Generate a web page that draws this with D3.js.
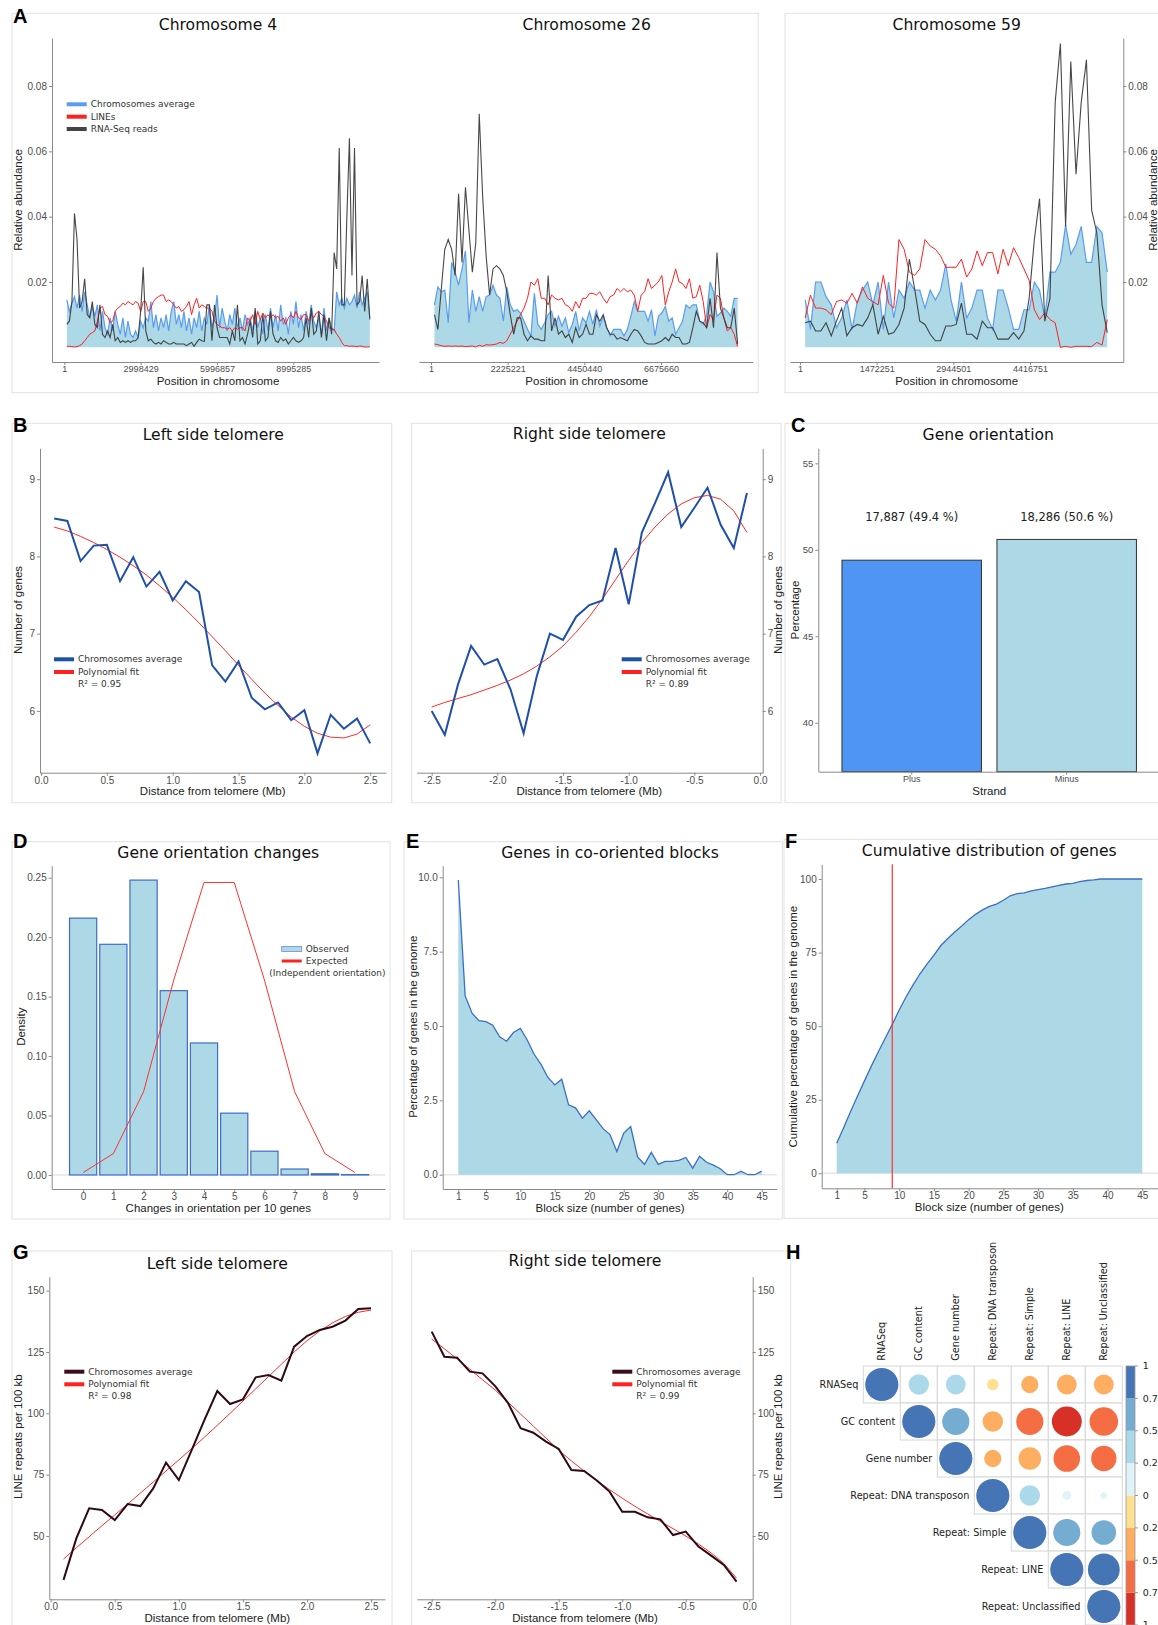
<!DOCTYPE html>
<html>
<head>
<meta charset="utf-8">
<script src="https://cdn.jsdelivr.net/npm/d3@7"></script>
<style>
body { margin: 0; background: #fff; }
svg { display: block; }
svg text { font-family: "Liberation Sans", Arial, sans-serif; }
.title, .leg, .barlab, .corr { font-family: "DejaVu Sans", Verdana, sans-serif; }
</style>
</head>
<body>
<svg id="fig" width="1158" height="1625"></svg>
<script>
// ---- data ----
// panel A: relative abundance per 100 kb window (values x 0.001)
var WINDOW = 100000;
var chr4Ticks = [1, 2998429, 5996857, 8995285];
var chr4Avg = [14.5, 11, 13.5, 15.5, 12, 16, 11, 17, 13, 9,
  12.5, 9.5, 13, 5, 11, 6, 4, 9, 5, 11,
  7, 4, 9, 3, 8, 4, 3, 5, 3, 8,
  6, 9, 8, 14, 6, 10, 5, 9, 6, 10,
  5, 11, 14, 7, 10, 6, 11, 5, 9, 4,
  9, 6, 11, 5, 9, 7, 13, 6, 9, 16,
  6, 12, 8, 5, 10, 7, 12, 6, 9, 5,
  10, 7, 9, 5, 11, 6, 9, 4, 10, 5,
  12, 6, 10, 5, 13, 7, 9, 4, 11, 7,
  14, 6, 10, 5, 11, 7, 13, 8, 6, 9,
  4, 12, 5, 9, 6, 5, 17, 13, 15, 12,
  15, 13, 14, 16, 12, 17, 13, 15, 17, 9];
var chr4Lines = [0.3, 0.3, 0.2, 0.1, 0.2, 0.5, 1, 2, 3, 4,
  4.5, 5, 8, 12, 12.5, 10, 9.5, 7.5, 8, 11,
  12, 12.5, 13.5, 13, 14, 13.5, 13, 14, 13.5, 11,
  14, 14, 11, 12, 14, 15, 15.5, 16, 16, 14,
  14.5, 14, 13, 12, 12.5, 11, 11.5, 12.5, 14, 10,
  13, 15, 12, 13, 12.5, 12, 12, 11, 8, 7,
  6.5, 6, 6, 5.5, 6, 5, 6, 5.5, 6, 6,
  5, 9, 8, 10, 7, 11, 8.5, 10.5, 9, 10,
  9, 10, 9, 9.5, 8, 9, 7, 9, 10, 9,
  11, 9, 8.5, 10, 10, 8, 10, 9, 10.5, 11,
  10, 9.5, 8, 6, 5.5, 5.5, 4, 3, 1.5, 0.5,
  0.5, 0.3, 0.4, 0.3, 0.2, 0.4, 0.3, 0.1, 0.1, 0.2];
var chr4Rna = [7, 8, 14, 41, 33, 12, 14, 21, 10, 9,
  14, 7, 6, 13, 4, 3, 5, 3, 7, 2,
  3, 1.5, 2, 1.5, 2, 1.5, 2, 2, 3, 11,
  24.5, 5, 2, 2.5, 1.5, 1, 1.5, 1, 2, 1.5,
  1, 1, 1.5, 1, 1, 1, 1, 0.5, 1, 1.5,
  0.3, 1.5, 2.5, 2, 1.8, 13, 13, 2, 13, 6,
  3, 3, 3, 3, 1, 5, 2, 13, 2, 3,
  1, 4, 8, 3, 12, 1, 2, 10, 2, 3,
  11, 4, 2, 1.5, 3, 2, 2.5, 1, 2, 3,
  2, 1.5, 2, 3, 9, 3, 12, 4, 5, 11,
  3, 10, 2, 9, 4, 29, 24, 61, 13, 13,
  40, 64, 22, 61, 13, 14, 22, 11, 21, 8.5];

var chr26Ticks = [1, 2225221, 4450440, 6675660];
var chr26Avg = [13, 18.5, 17, 17.5, 7.5, 26, 23, 19, 24, 29.5,
  7.5, 17.5, 11, 15.5, 11, 15.5, 16, 19, 16, 15,
  8, 18.5, 13, 11, 11.5, 10.5, 8, 5.5, 3.5, 16.5,
  7, 5.5, 7.5, 10, 11, 6.5, 9.5, 6.5, 9, 4.5,
  7, 11, 5, 9, 7.5, 11, 7, 11.5, 6.5, 9.5,
  6, 3.5, 5.5, 5.5, 5.5, 3.5, 5.5, 9.5, 14, 11,
  11, 11, 8, 11.5, 3.5, 9.5, 10.5, 12.5, 8, 9,
  4, 6, 8, 13, 12, 13, 13, 8, 7, 10,
  20, 17, 9.5, 10.5, 12, 11, 9.5, 15, 15];
var chr26Lines = [1, 0.8, 0.5, 0.3, 0.4, 0.3, 0.4, 0.3, 0.4, 0.2,
  0.3, 0.4, 0.1, 0.6, 0.3, 0.8, 0.7, 0.8, 1, 1.5,
  1.2, 2, 4, 6, 8, 10, 12, 15, 20, 19,
  21, 15, 15, 13, 16, 15, 14.5, 15, 13, 12.5,
  11, 14, 12, 15, 15, 16.5, 16.5, 16, 17, 15,
  13.5, 15.5, 16, 18, 17, 18, 17, 17.5, 16, 11,
  16, 17, 21, 18, 19, 20, 22, 13, 17, 20,
  24, 20, 19.5, 18, 21, 15, 15.5, 19, 14, 6,
  10, 8.5, 16, 15, 9, 5, 6, 4, 0.2];
var chr26Rna = [10, 5.5, 18, 30, 33, 30, 22, 47, 26, 49,
  36, 23, 32, 71.5, 46, 28, 16, 24, 25, 24,
  22, 17, 10, 4, 9, 9, 4, 2, 3.5, 2.5,
  2.5, 2, 2, 22, 5, 9, 4, 5, 3, 4,
  1.5, 6, 3, 4, 7, 4, 4, 10, 8, 10,
  6, 4, 4, 2.5, 3, 2.5, 2, 4, 5.5, 5,
  3.5, 1.5, 1, 1, 1, 1.5, 2, 3, 2, 4,
  3, 3, 1, 1, 1.5, 6, 11, 8, 7.5, 6,
  15, 6, 29, 12, 9, 6, 6, 12, 1];

var chr59Ticks = [1, 1472251, 2944501, 4416751];
var chr59Avg = [14.5, 5.5, 20, 20, 15.5, 13, 6, 9, 14.5, 5.5,
  14, 17.5, 20, 13, 20, 5.5, 20, 9, 17.5, 15,
  20, 17.5, 17.5, 12, 17.5, 14.5, 17.5, 25.5, 14.5, 8,
  20, 9, 12, 17.5, 17.5, 9, 5.5, 17.5, 17.5, 12,
  5.5, 5.5, 11.5, 11.5, 20, 17.5, 9, 23, 23, 26,
  37.5, 28.5, 31.5, 37, 26, 26, 37, 35, 23];
var chr59Lines = [9, 16, 12, 12, 11.5, 10, 14, 14.5, 13.5, 16.5,
  13.5, 18.5, 15, 14, 13, 22, 13.5, 12, 33, 30,
  23, 22, 24, 33, 31, 30, 28, 24.5, 24.5, 24.5,
  27, 21.5, 24, 29.5, 25, 29, 29, 22.5, 30, 25,
  30.5, 27.5, 24, 20.5, 11.5, 8.5, 10.5, 8.5, 7.5, 0,
  0.3, 0, 0.3, 0.3, 0.3, 0.2, 1.5, 0.7, 8.5];
var chr59Rna = [7.5, 8, 5, 5, 7.5, 3.5, 8, 12, 3.5, 6,
  7, 6.5, 9, 13, 4, 9.5, 4, 4.5, 7, 12,
  27, 18, 8, 7, 4, 2, 2, 6.5, 6.5, 7,
  13.5, 4, 4, 2.5, 8, 6, 6, 2.5, 2.5, 2.5,
  4.5, 2.5, 5, 15, 33, 45.5, 8, 15, 75, 93,
  37, 87.5, 53, 75, 88, 42, 35, 13, 4.5];

// panel B: genes per window near telomeres
var distLeft = [0.1, 0.2, 0.3, 0.4, 0.5, 0.6, 0.7, 0.8, 0.9, 1.0, 1.1, 1.2, 1.3, 1.4, 1.5, 1.6, 1.7, 1.8, 1.9, 2.0, 2.1, 2.2, 2.3, 2.4, 2.5];
var distRight = [-2.5, -2.4, -2.3, -2.2, -2.1, -2.0, -1.9, -1.8, -1.7, -1.6, -1.5, -1.4, -1.3, -1.2, -1.1, -1.0, -0.9, -0.8, -0.7, -0.6, -0.5, -0.4, -0.3, -0.2, -0.1];
var genesLeft = [8.49, 8.46, 7.94, 8.14, 8.15, 7.68, 7.99, 7.61, 7.80, 7.43, 7.68, 7.54, 6.59, 6.38, 6.64, 6.17, 6.02, 6.11, 5.88, 6.01, 5.45, 5.95, 5.77, 5.90, 5.58];
var genesLeftFit = [8.38, 8.33, 8.26, 8.18, 8.09, 7.99, 7.88, 7.76, 7.62, 7.47, 7.31, 7.14, 6.96, 6.78, 6.59, 6.41, 6.23, 6.07, 5.92, 5.80, 5.71, 5.66, 5.65, 5.70, 5.82];
var genesRight = [6.00, 5.69, 6.34, 6.84, 6.60, 6.67, 6.28, 5.71, 6.45, 7.00, 6.92, 7.22, 7.37, 7.43, 8.11, 7.38, 8.31, 8.69, 9.09, 8.38, 8.63, 8.89, 8.41, 8.11, 8.82];
var genesRightFit = [6.05, 6.11, 6.16, 6.21, 6.27, 6.33, 6.40, 6.48, 6.58, 6.70, 6.84, 7.02, 7.22, 7.45, 7.70, 7.95, 8.18, 8.38, 8.55, 8.68, 8.76, 8.79, 8.74, 8.59, 8.31];

// panel C
var strands = ['Plus', 'Minus'];
var strandGenes = [17887, 18286];
var strandPct = [49.4, 50.6];

// panel D
var changes = [0, 1, 2, 3, 4, 5, 6, 7, 8, 9];
var observedDensity = [0.216, 0.194, 0.248, 0.155, 0.111, 0.052, 0.020, 0.005, 0.001, 0.0003];
var expectedDensity = [0.002, 0.018, 0.070, 0.164, 0.246, 0.246, 0.164, 0.070, 0.018, 0.002];

// panels E, F
var blockSizes = d3.range(1, 46);
var blockPct = [9.91, 6.01, 5.43, 5.18, 5.15, 5.03, 4.64, 4.49, 4.78, 4.92,
  4.53, 4.05, 3.71, 3.27, 3.02, 3.21, 2.35, 2.25, 1.9, 2.15,
  1.85, 1.55, 1.35, 0.78, 1.4, 1.62, 0.6, 0.35, 0.75, 0.35,
  0.45, 0.45, 0.48, 0.58, 0.22, 0.62, 0.42, 0.32, 0.2, 0,
  0, 0.12, 0, 0, 0.12];
var blockCum = [10.2, 15.5, 21, 26.3, 31.4, 36.5, 41.3, 46, 50.6, 55.5,
  60, 64, 67.8, 71.1, 74.1, 77.4, 79.8, 82, 84, 86.2,
  88, 89.5, 90.7, 91.5, 92.8, 94.3, 95, 95.3, 96, 96.4,
  96.8, 97.3, 97.8, 98.3, 98.5, 99.1, 99.5, 99.7, 100, 100,
  100, 100, 100, 100, 100];
var halfGenesBlock = 9;

// panel G: LINE repeats per 100 kb
var lineLeft = [32.1, 49.0, 61.3, 60.6, 56.5, 63.0, 62.2, 69.4, 79.9, 72.8, 85, 97.3, 109.1, 103.8, 105.7, 114.7, 115.6, 113.3, 127.2, 131.5, 134, 135.3, 137.8, 142.5, 142.8];
var lineLeftFit = [40.6, 45.2, 49.7, 54.2, 58.6, 63.0, 67.5, 72.0, 76.5, 81.0, 85.6, 90.3, 95.1, 100.0, 105.0, 110.0, 115.0, 120.0, 125.0, 129.6, 133.6, 136.9, 139.5, 141.2, 142.1];
var lineRight = [133.3, 123.1, 122.7, 117, 116.3, 111.1, 104.3, 93.9, 92.1, 88.5, 85.5, 76.9, 76.5, 72.6, 68.1, 59.9, 59.9, 57.6, 56.8, 50.4, 51.8, 45.7, 42, 38.2, 31.4];
var lineRightFit = [130.3, 126.3, 122.2, 118.0, 113.7, 109.5, 104.6, 99.7, 94.8, 89.9, 85.0, 80.6, 76.5, 72.6, 68.9, 65.4, 62.1, 59.0, 56.0, 53.0, 50.0, 46.7, 43.1, 38.8, 32.8];

// panel H: correlations
var corrVars = ['RNASeq', 'GC content', 'Gene number', 'Repeat: DNA transposon', 'Repeat: Simple', 'Repeat: LINE', 'Repeat: Unclassified'];
var corrMatrix = [
  [1, 0.38, 0.36, -0.12, -0.27, -0.36, -0.36],
  [0.38, 1, 0.67, -0.38, -0.67, -0.81, -0.74],
  [0.36, 0.67, 1, -0.27, -0.46, -0.64, -0.58],
  [-0.12, -0.38, -0.27, 1, 0.38, 0.07, 0.04],
  [-0.27, -0.67, -0.46, 0.38, 1, 0.67, 0.55],
  [-0.36, -0.81, -0.64, 0.07, 0.67, 1, 0.92],
  [-0.36, -0.74, -0.58, 0.04, 0.55, 0.92, 1]
];
var corrBreaks = [-0.75, -0.5, -0.25, 0, 0.25, 0.5, 0.75];
var corrColors = ['#d73027', '#f46d43', '#fdae61', '#fee090', '#e0f3f8', '#abd9e9', '#74add1', '#4575b4'];
var corrLegendTicks = [1, 0.75, 0.5, 0.25, 0, -0.25, -0.5, -0.75, -1];

// ---- drawing ----
var svg = d3.select('#fig');
var LIGHT = '#add8e6';

function frame(x0, y0, x1, y1) {
  svg.append('rect').attr('x', x0).attr('y', y0).attr('width', x1 - x0).attr('height', y1 - y0)
    .attr('fill', 'none').attr('stroke', '#e2e2e2').attr('stroke-width', 1);
}
function letter(t, x, y) {
  svg.append('text').attr('x', x).attr('y', y).text(t)
    .attr('font-size', 20).attr('font-weight', 'bold').attr('fill', '#000');
}
function title(t, x, y) {
  svg.append('text').attr('class', 'title').attr('x', x).attr('y', y).attr('dy', '0.35em')
    .attr('text-anchor', 'middle').attr('font-size', 15.6).attr('fill', '#111').text(t);
}
function axisLabel(t, x, y, rot) {
  var s = svg.append('text').attr('text-anchor', 'middle').attr('dy', '0.35em')
    .attr('font-size', 11.5).attr('fill', '#222').text(t);
  if (rot) s.attr('transform', 'translate(' + x + ',' + y + ') rotate(-90)');
  else s.attr('x', x).attr('y', y);
}
function styleAxis(g, fs) {
  g.attr('font-family', null);
  g.select('.domain').attr('stroke', '#8a8a8a');
  g.selectAll('.tick line').attr('stroke', '#8a8a8a');
  g.selectAll('.tick text').attr('fill', '#4d4d4d').attr('font-size', fs || 10);
}
function drawAxes(o) {
  var gx = svg.append('g').attr('transform', 'translate(0,' + o.xAt + ')')
    .call(d3.axisBottom(o.x).tickValues(o.xTicks).tickFormat(o.xFmt || null)
      .tickSize(3).tickSizeOuter(0).tickPadding(1));
  styleAxis(gx, o.xfs);
  if (o.yTicks) {
    var ax = o.yRight ? d3.axisRight(o.y) : d3.axisLeft(o.y);
    var gy = svg.append('g').attr('transform', 'translate(' + o.yAt + ',0)')
      .call(ax.tickValues(o.yTicks).tickFormat(o.yFmt || null).tickSize(3).tickSizeOuter(0).tickPadding(2));
    styleAxis(gy, o.yfs);
  }
}
function legendItem(x, y, color, t, w) {
  svg.append('line').attr('x1', x).attr('x2', x + 20).attr('y1', y).attr('y2', y)
    .attr('stroke', color).attr('stroke-width', w || 4);
  svg.append('text').attr('class', 'leg').attr('x', x + 24).attr('y', y).attr('dy', '0.35em')
    .attr('font-size', 9).attr('fill', '#333').text(t);
}
function legendR2(x, y, t) {
  svg.append('text').attr('class', 'leg').attr('x', x + 24).attr('y', y).attr('dy', '0.35em')
    .attr('font-size', 9).attr('fill', '#333').text(t);
}
var fmt1 = function(d) { return d.toFixed(1); };
var fmt2 = function(d) { return d.toFixed(2); };
var fmt0 = function(d) { return String(d); };

// frames and letters
frame(12, 13.3, 758.3, 392.7);
frame(785, 13.3, 1165, 392.7);
frame(12, 423.3, 391.7, 802.7);
frame(411.7, 423.3, 781, 802.7);
frame(785, 423.3, 1165, 802.7);
frame(12, 841.7, 390, 1219);
frame(404, 841.7, 782.3, 1219);
frame(784, 839.3, 1165, 1218.3);
frame(12, 1251, 392, 1640);
frame(411.7, 1251, 790.7, 1640);
letter('A', 13, 23);
letter('B', 13, 432);
letter('C', 791, 432);
letter('D', 13, 848);
letter('E', 406, 848);
letter('F', 785, 848);
letter('G', 13, 1259);
letter('H', 786, 1259);

// ---- A ----
var aY = d3.scaleLinear().domain([-0.0045, 0.0947]).range([362, 38]);
var chromPanels = [
  { name: 'Chromosome 4', avg: chr4Avg, lines: chr4Lines, rna: chr4Rna, ticks: chr4Ticks,
    x: d3.scaleLinear().domain([-483000, 12362000]).range([52, 379]), side: 'left', cx: 218 },
  { name: 'Chromosome 26', avg: chr26Avg, lines: chr26Lines, rna: chr26Rna, ticks: chr26Ticks,
    x: d3.scaleLinear().domain([-348300, 9336700]).range([419, 752.7]), side: null, cx: 586.7 },
  { name: 'Chromosome 59', avg: chr59Avg, lines: chr59Lines, rna: chr59Rna, ticks: chr59Ticks,
    x: d3.scaleLinear().domain([-192000, 6208000]).range([790, 1123.3]), side: 'right', cx: 956.7 }
];
chromPanels.forEach(function(p) {
  var pts = function(arr) { return arr.map(function(v, i) { return [(i + 1) * WINDOW, v / 1000]; }); };
  var line = d3.line().x(function(d) { return p.x(d[0]); }).y(function(d) { return aY(d[1]); });
  var area = d3.area().x(function(d) { return p.x(d[0]); }).y0(aY(0)).y1(function(d) { return aY(d[1]); });
  svg.append('path').datum(pts(p.avg)).attr('d', area).attr('fill', LIGHT);
  svg.append('path').datum(pts(p.avg)).attr('d', line).attr('fill', 'none')
    .attr('stroke', '#5a9cf0').attr('stroke-width', 1.2);
  svg.append('path').datum(pts(p.lines)).attr('d', line).attr('fill', 'none')
    .attr('stroke', '#ff2020').attr('stroke-width', 1);
  svg.append('path').datum(pts(p.rna)).attr('d', line).attr('fill', 'none')
    .attr('stroke', '#333').attr('stroke-opacity', 0.9).attr('stroke-width', 1.1);

  drawAxes({ x: p.x, y: aY, xAt: 362, xTicks: p.ticks, xFmt: d3.format('d'), xfs: 9,
    yTicks: p.side ? [0.02, 0.04, 0.06, 0.08] : null, yFmt: fmt2, yRight: p.side === 'right',
    yAt: p.side === 'right' ? 1123.3 : 52, yfs: 10 });
  title(p.name, p.cx, 25);
  axisLabel('Position in chromosome', p.cx, 381);
});
axisLabel('Relative abundance', 18, 200, true);
axisLabel('Relative abundance', 1153, 200, true);
legendItem(66.7, 104.3, '#5a9cf0', 'Chromosomes average');
legendItem(66.7, 116.7, '#ff2020', 'LINEs');
legendItem(66.7, 129, '#444', 'RNA-Seq reads');

// ---- B ----
var bY = d3.scaleLinear().domain([5.2, 9.4]).range([772.7, 448.3]);
var bXL = d3.scaleLinear().domain([-0.008, 2.62]).range([40, 386]);
var bXR = d3.scaleLinear().domain([-2.614, 0.02]).range([416.7, 762.7]);
function telomerePanel(x, y, dist, vals, fit, color, width) {
  var line = d3.line().x(function(d, i) { return x(dist[i]); }).y(function(d) { return y(d); });
  svg.append('path').datum(fit).attr('d', line).attr('fill', 'none').attr('stroke', '#ff2a2a').attr('stroke-width', 1);
  svg.append('path').datum(vals).attr('d', line).attr('fill', 'none').attr('stroke', color).attr('stroke-width', width);
}
telomerePanel(bXL, bY, distLeft, genesLeft, genesLeftFit, '#1f50a8', 2);
telomerePanel(bXR, bY, distRight, genesRight, genesRightFit, '#1f50a8', 2);
drawAxes({ x: bXL, y: bY, xAt: 772.7, xTicks: [0, 0.5, 1, 1.5, 2, 2.5], xFmt: fmt1, yTicks: [6, 7, 8, 9], yFmt: fmt0, yAt: 40 });
drawAxes({ x: bXR, y: bY, xAt: 772.7, xTicks: [-2.5, -2, -1.5, -1, -0.5, 0], xFmt: fmt1, yTicks: [6, 7, 8, 9], yFmt: fmt0, yAt: 762.7, yRight: true });
title('Left side telomere', 213.3, 435);
title('Right side telomere', 589.3, 434);
axisLabel('Number of genes', 18, 610, true);
axisLabel('Number of genes', 778, 610, true);
axisLabel('Distance from telomere (Mb)', 212.7, 791);
axisLabel('Distance from telomere (Mb)', 589.3, 791);
legendItem(54, 659.3, '#1f50a8', 'Chromosomes average');
legendItem(54, 672, '#ff2020', 'Polynomial fit');
legendR2(54, 684, 'R\u00b2 = 0.95');
legendItem(621.7, 659.3, '#1f50a8', 'Chromosomes average');
legendItem(621.7, 672, '#ff2020', 'Polynomial fit');
legendR2(621.7, 684, 'R\u00b2 = 0.89');

// ---- C ----
var cY = d3.scaleLinear().domain([37.17, 55.87]).range([771.7, 448.3]);
var cX = d3.scaleBand().domain(strands).range([818.7, 1159.7]).paddingInner(0.1).paddingOuter(0.15);
svg.selectAll('rect.strand').data(strands).enter().append('rect').attr('class', 'strand')
  .attr('x', function(d) { return cX(d); })
  .attr('width', cX.bandwidth())
  .attr('y', function(d, i) { return cY(strandPct[i]); })
  .attr('height', function(d, i) { return cY(37.17) - cY(strandPct[i]); })
  .attr('fill', function(d, i) { return i === 0 ? '#4f95f4' : LIGHT; })
  .attr('stroke', '#333').attr('stroke-width', 1);
svg.selectAll('text.barlab').data(strands).enter().append('text').attr('class', 'barlab')
  .attr('x', function(d) { return cX(d) + cX.bandwidth() / 2; })
  .attr('y', 517).attr('dy', '0.35em').attr('text-anchor', 'middle')
  .attr('font-size', 11.5).attr('fill', '#222')
  .text(function(d, i) { return d3.format(',')(strandGenes[i]) + ' (' + strandPct[i].toFixed(1) + ' %)'; });
drawAxes({ x: cX, y: cY, xAt: 771.7, xTicks: strands, xfs: 9, yTicks: [40, 45, 50, 55], yAt: 818.3, yfs: 9.5 });
title('Gene orientation', 988.3, 435);
axisLabel('Percentage', 795, 610, true);
axisLabel('Strand', 989.3, 791);

// ---- D ----
var dY = d3.scaleLinear().domain([-0.0118, 0.2601]).range([1189, 865.7]);
var dX = d3.scaleLinear().domain([-1.04, 9.99]).range([51.7, 385]);
svg.append('line').attr('x1', 51.7).attr('x2', 385).attr('y1', dY(0)).attr('y2', dY(0))
  .attr('stroke', '#e6e6e6').attr('stroke-width', 1.5);
svg.selectAll('rect.obs').data(changes).enter().append('rect').attr('class', 'obs')
  .attr('x', function(d) { return dX(d - 0.45); })
  .attr('width', dX(0.45) - dX(-0.45))
  .attr('y', function(d, i) { return dY(observedDensity[i]); })
  .attr('height', function(d, i) { return dY(0) - dY(observedDensity[i]); })
  .attr('fill', LIGHT).attr('stroke', '#3d6cc7').attr('stroke-width', 1.2);
svg.append('path').datum(expectedDensity)
  .attr('d', d3.line().x(function(d, i) { return dX(changes[i]); }).y(function(d) { return dY(d); }))
  .attr('fill', 'none').attr('stroke', '#ff3030').attr('stroke-width', 1);
drawAxes({ x: dX, y: dY, xAt: 1189, xTicks: changes, yTicks: [0, 0.05, 0.1, 0.15, 0.2, 0.25], yFmt: fmt2, yAt: 51.7 });
title('Gene orientation changes', 218.3, 852.3);
axisLabel('Density', 20.7, 1026.7, true);
axisLabel('Changes in orientation per 10 genes', 218.3, 1208.3);
svg.append('rect').attr('x', 281.7).attr('y', 946.5).attr('width', 20).attr('height', 5)
  .attr('fill', LIGHT).attr('stroke', '#6f8fcf').attr('stroke-width', 0.8);
svg.append('text').attr('class', 'leg').attr('x', 305.7).attr('y', 949).attr('dy', '0.35em')
  .attr('font-size', 9).attr('fill', '#333').text('Observed');
legendItem(281.7, 961, '#ff2020', 'Expected', 3);
svg.append('text').attr('class', 'leg').attr('x', 269.3).attr('y', 973).attr('dy', '0.35em')
  .attr('font-size', 9).attr('fill', '#333').text('(Independent orientation)');

// ---- E ----
var eY = d3.scaleLinear().domain([-0.48, 10.39]).range([1189, 865.7]);
var eX = d3.scaleLinear().domain([-1.26, 47.18]).range([442.7, 776.7]);
var blockTicks = [1, 5, 10, 15, 20, 25, 30, 35, 40, 45];
svg.append('line').attr('x1', 442.7).attr('x2', 776.7).attr('y1', eY(0)).attr('y2', eY(0))
  .attr('stroke', '#e6e6e6').attr('stroke-width', 1.5);
svg.append('path').datum(blockPct)
  .attr('d', d3.area().x(function(d, i) { return eX(blockSizes[i]); }).y0(eY(0)).y1(function(d) { return eY(d); }))
  .attr('fill', LIGHT);
svg.append('path').datum(blockPct)
  .attr('d', d3.line().x(function(d, i) { return eX(blockSizes[i]); }).y(function(d) { return eY(d); }))
  .attr('fill', 'none').attr('stroke', '#3a6fc4').attr('stroke-width', 1.3);
drawAxes({ x: eX, y: eY, xAt: 1189, xTicks: blockTicks, yTicks: [0, 2.5, 5, 7.5, 10], yFmt: fmt1, yAt: 442.7 });
title('Genes in co-oriented blocks', 610, 852.3);
axisLabel('Percentage of genes in the genome', 412.7, 1026.7, true);
axisLabel('Block size (number of genes)', 610, 1208.3);

// ---- F ----
var fY = d3.scaleLinear().domain([-5.1, 105]).range([1188.3, 864.3]);
var fX = d3.scaleLinear().domain([-1.16, 47.55]).range([821.7, 1160]);
svg.append('line').attr('x1', 821.7).attr('x2', 1160).attr('y1', fY(0)).attr('y2', fY(0))
  .attr('stroke', '#e6e6e6').attr('stroke-width', 1.5);
svg.append('path').datum(blockCum)
  .attr('d', d3.area().x(function(d, i) { return fX(blockSizes[i]); }).y0(fY(0)).y1(function(d) { return fY(d); }))
  .attr('fill', LIGHT);
svg.append('path').datum(blockCum)
  .attr('d', d3.line().x(function(d, i) { return fX(blockSizes[i]); }).y(function(d) { return fY(d); }))
  .attr('fill', 'none').attr('stroke', '#3a6fc4').attr('stroke-width', 1.3);
svg.append('line').attr('x1', fX(halfGenesBlock)).attr('x2', fX(halfGenesBlock)).attr('y1', 864.3).attr('y2', 1188.3)
  .attr('stroke', '#ff3030').attr('stroke-width', 1.2);
drawAxes({ x: fX, y: fY, xAt: 1188.3, xTicks: blockTicks, yTicks: [0, 25, 50, 75, 100], yAt: 821.7 });
title('Cumulative distribution of genes', 989.3, 850.7);
axisLabel('Cumulative percentage of genes in the genome', 792.7, 1026.7, true);
axisLabel('Block size (number of genes)', 989.3, 1206.7);

// ---- G ----
var gY = d3.scaleLinear().domain([24.2, 155.7]).range([1599.3, 1276.7]);
var gXL = d3.scaleLinear().domain([-0.011, 2.609]).range([49.3, 385]);
var gXR = d3.scaleLinear().domain([-2.618, 0.027]).range([416.7, 752.7]);
telomerePanel(gXL, gY, distLeft, lineLeft, lineLeftFit, '#2b0a14', 2);
telomerePanel(gXR, gY, distRight, lineRight, lineRightFit, '#2b0a14', 2);
drawAxes({ x: gXL, y: gY, xAt: 1599.3, xTicks: [0, 0.5, 1, 1.5, 2, 2.5], xFmt: fmt1, yTicks: [50, 75, 100, 125, 150], yAt: 49.3 });
drawAxes({ x: gXR, y: gY, xAt: 1599.3, xTicks: [-2.5, -2, -1.5, -1, -0.5, 0], xFmt: fmt1, yTicks: [50, 75, 100, 125, 150], yAt: 752.7, yRight: true });
title('Left side telomere', 217.3, 1263.3);
title('Right side telomere', 585, 1260.7);
axisLabel('LINE repeats per 100 kb', 18.3, 1436.7, true);
axisLabel('LINE repeats per 100 kb', 778.3, 1436.7, true);
axisLabel('Distance from telomere (Mb)', 217.3, 1618.3);
axisLabel('Distance from telomere (Mb)', 585, 1618.3);
legendItem(64.3, 1371.7, '#3a0d1e', 'Chromosomes average');
legendItem(64.3, 1384.3, '#ff2020', 'Polynomial fit');
legendR2(64.3, 1395.7, 'R\u00b2 = 0.98');
legendItem(612.3, 1371.7, '#3a0d1e', 'Chromosomes average');
legendItem(612.3, 1384.3, '#ff2020', 'Polynomial fit');
legendR2(612.3, 1395.7, 'R\u00b2 = 0.99');

// ---- H ----
var hX = d3.scaleBand().domain(corrVars).range([863.3, 1122.3]);
var hYs = d3.scaleBand().domain(corrVars).range([1366, 1625]);
var hColor = d3.scaleThreshold().domain(corrBreaks).range(corrColors);
var maxR = 16.6;
var cells = [];
corrVars.forEach(function(rv, i) {
  corrVars.forEach(function(cv, j) {
    if (j >= i) cells.push({ row: rv, col: cv, r: corrMatrix[i][j] });
  });
});
var hg = svg.append('g');
hg.selectAll('rect.cell').data(cells).enter().append('rect').attr('class', 'cell')
  .attr('x', function(d) { return hX(d.col); }).attr('y', function(d) { return hYs(d.row); })
  .attr('width', hX.bandwidth()).attr('height', hYs.bandwidth())
  .attr('fill', '#fff').attr('stroke', '#d6d6d6').attr('stroke-width', 1);
hg.selectAll('circle').data(cells).enter().append('circle')
  .attr('cx', function(d) { return hX(d.col) + hX.bandwidth() / 2; })
  .attr('cy', function(d) { return hYs(d.row) + hYs.bandwidth() / 2; })
  .attr('r', function(d) { return maxR * Math.sqrt(Math.abs(d.r)); })
  .attr('fill', function(d) { return hColor(d.r); });
hg.selectAll('text.rowlab').data(corrVars).enter().append('text').attr('class', 'corr')
  .attr('x', function(d) { return hX(d) - 5; })
  .attr('y', function(d) { return hYs(d) + hYs.bandwidth() / 2; })
  .attr('dy', '0.35em').attr('text-anchor', 'end').attr('font-size', 9.7).attr('fill', '#222')
  .text(function(d) { return d; });
hg.selectAll('text.collab').data(corrVars).enter().append('text').attr('class', 'corr')
  .attr('transform', function(d) { return 'translate(' + (hX(d) + hX.bandwidth() / 2) + ',1360.7) rotate(-90)'; })
  .attr('dy', '0.35em').attr('text-anchor', 'start').attr('font-size', 9.7).attr('fill', '#222')
  .text(function(d) { return d; });
// colour bar
var barY = d3.scaleLinear().domain([1, -1]).range([1366, 1625]);
var bins = corrColors.map(function(c, i) {
  return { c: c, lo: i === 0 ? -1 : corrBreaks[i - 1], hi: i === corrColors.length - 1 ? 1 : corrBreaks[i] };
});
hg.selectAll('rect.bin').data(bins).enter().append('rect')
  .attr('x', 1126).attr('width', 9)
  .attr('y', function(d) { return barY(d.hi); })
  .attr('height', function(d) { return barY(d.lo) - barY(d.hi); })
  .attr('fill', function(d) { return d.c; });
hg.append('rect').attr('x', 1126).attr('y', 1366).attr('width', 9).attr('height', 259)
  .attr('fill', 'none').attr('stroke', '#9a9a9a').attr('stroke-width', 0.8);
hg.selectAll('line.btick').data(corrLegendTicks).enter().append('line')
  .attr('x1', 1135).attr('x2', 1138)
  .attr('y1', function(d) { return barY(d); }).attr('y2', function(d) { return barY(d); })
  .attr('stroke', '#9a9a9a');
hg.selectAll('text.btick').data(corrLegendTicks).enter().append('text').attr('class', 'corr')
  .attr('x', 1142.7).attr('y', function(d) { return barY(d); }).attr('dy', '0.35em')
  .attr('font-size', 9.5).attr('fill', '#222')
  .text(function(d) { return String(Math.abs(d)); });
</script>
</body>
</html>
